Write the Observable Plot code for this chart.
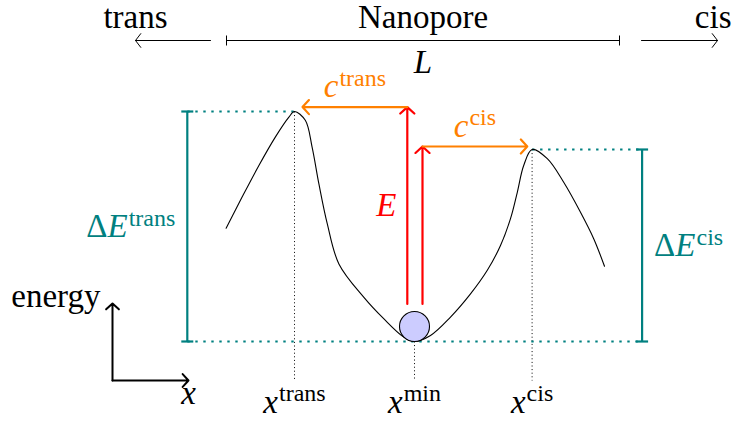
<!DOCTYPE html>
<html>
<head>
<meta charset="utf-8">
<script src="https://cdn.jsdelivr.net/npm/d3@7"></script>
<script src="https://cdn.jsdelivr.net/npm/@observablehq/plot@0.6"></script>
<style>
  html, body { margin: 0; padding: 0; background: #fff; overflow: hidden; }
</style>
</head>
<body>
<div id="chart"></div>
<script>
// Potential energy profile along the pore axis (position x, energy E, arbitrary units)
const profileX = [-4.71, -4.31, -3.89, -3.48, -3.14, -3.0, -2.73, -2.56, -2.39, -2.18, -1.89,
                  -1.27, -0.77, -0.27, 0, 0.4, 0.9, 1.4, 1.82, 2.15, 2.4, 2.57, 2.73, 2.94,
                  3.32, 3.73, 4.15, 4.48, 4.75];
const profileE = [2.83, 3.61, 4.40, 5.11, 5.61, 5.75, 5.53, 4.86, 3.94, 2.94, 1.94,
                  1.11, 0.57, 0.11, 0, 0.15, 0.61, 1.19, 1.78, 2.40, 3.07, 3.73, 4.40, 4.80,
                  4.57, 3.98, 3.23, 2.57, 1.88];

// Characteristic points: trans barrier, well minimum, cis barrier
const wellNames     = ["trans", "min", "cis"];
const wellPositions = [-3.0, 0, 2.94];
const wellEnergies  = [5.75, 0, 4.8];
const wellLabels    = ["x^trans", "x^min", "x^cis"];

// Barrier heights measured from the minimum
const barrierNames  = ["trans", "cis"];
const barrierLabels = ["ΔE^trans", "ΔE^cis"];

// Pore sides shown on the top row
const sideLabels = ["trans", "Nanopore", "cis"];

// Kinetic energy of the particle and the excess over each barrier
const kineticLabels = ["E", "c^trans", "c^cis"];

const TEAL = "#008080", ORANGE = "#ff8000", RED = "#ff0000", BALL = "#ccccff";
const FONT = "Liberation Serif";
const FS = 33, SUP = 24;

const profile = profileX.map((x, i) => ({x, e: profileE[i]}));
const wells = wellNames.map((name, i) => ({name, x: wellPositions[i], e: wellEnergies[i], label: wellLabels[i]}));
const W = Object.fromEntries(wells.map(d => [d.name, d]));

// layout in plot units
const barL = -5.68, barR = 5.69, capHalf = 0.15;
const floorE = -0.975;
const axisOrigin = {x: -7.55, e: floorE};
const axisTipE = 0.95, axisTipX = -5.65;
const kinStart = 0.94;
const kinTrans = {x: -0.18, top: 5.86, end: -2.8};
const kinCis = {x: 0.2, top: 4.875, end: 2.82};
const topE = 7.525, poreL = -4.7, poreR = 5.125, topCap = 0.125;
const transArrow = {from: -5.1, to: -6.975};
const cisArrow = {from: 5.675, to: 7.575};

const barriers = [
  {name: barrierNames[0], bar: barL, x1: barL, x2: W.trans.x, e: W.trans.e, label: barrierLabels[0]},
  {name: barrierNames[1], bar: barR, x1: W.cis.x, x2: barR, e: W.cis.e, label: barrierLabels[1]}
];
const levels = [
  ...barriers.map(b => ({x1: b.x1, x2: b.x2, e: b.e})),
  {x1: barL, x2: barR, e: W.min.e}
];

const redArrows = [
  {x: kinTrans.x, e1: kinStart, e2: kinTrans.top},
  {x: kinCis.x, e1: kinStart, e2: kinCis.top}
];
const orangeArrows = [
  {x1: kinTrans.x, x2: kinTrans.end, e: kinTrans.top, label: kineticLabels[1]},
  {x1: kinCis.x, x2: kinCis.end, e: kinCis.top, label: kineticLabels[2]}
];

const txt = {fontFamily: FONT, fontSize: FS};

const svg = Plot.plot({
  width: 734,
  height: 423,
  margin: 0,
  x: {domain: [-10.35, 8.0], axis: null},
  y: {domain: [-2.05, 8.525], axis: null},
  style: `font-family: '${FONT}', serif; background: #fff; overflow: visible;`,
  marks: [
    // dotted guides below each characteristic point
    Plot.link(wells, {x1: "x", x2: "x", y1: "e", y2: () => floorE,
      stroke: "black", strokeWidth: 1, strokeDasharray: "1,2.6"}),

    // energy levels
    Plot.link(levels, {x1: "x1", x2: "x2", y1: "e", y2: "e",
      stroke: TEAL, strokeWidth: 2.2, strokeDasharray: "2.4,5.6"}),

    // barrier height bars with end caps
    Plot.link(barriers, {x1: "bar", x2: "bar", y1: () => W.min.e, y2: "e", stroke: TEAL, strokeWidth: 2.2}),
    Plot.link(barriers.flatMap(b => [b.e, W.min.e].map(e => ({x: b.bar, e}))),
      {x1: d => d.x - capHalf, x2: d => d.x + capHalf, y1: "e", y2: "e", stroke: TEAL, strokeWidth: 2.2}),

    // potential profile
    Plot.line(profile, {x: "x", y: "e", curve: "catmull-rom", stroke: "black", strokeWidth: 1.1}),

    // the particle resting in the well
    Plot.dot([{x: W.min.x, e: 0.375}], {x: "x", y: "e", r: 15, fill: BALL, stroke: "black", strokeWidth: 1.1}),

    // kinetic energy
    Plot.arrow(redArrows, {x1: "x", x2: "x", y1: "e1", y2: "e2",
      stroke: RED, strokeWidth: 2.2, headAngle: 95, headLength: 6.5}),
    // excess over each barrier
    Plot.arrow(orangeArrows, {x1: "x1", x2: "x2", y1: "e", y2: "e",
      stroke: ORANGE, strokeWidth: 2.2, headAngle: 95, headLength: 6.5}),

    // axis indicator
    Plot.arrow([axisOrigin], {x1: "x", x2: "x", y1: "e", y2: () => axisTipE,
      stroke: "black", strokeWidth: 2, headAngle: 95, headLength: 6.5}),
    Plot.arrow([axisOrigin], {x1: "x", x2: () => axisTipX, y1: "e", y2: "e",
      stroke: "black", strokeWidth: 2, headAngle: 95, headLength: 6.5}),

    // top row: trans <-  |-- Nanopore --|  -> cis
    Plot.arrow([transArrow, cisArrow], {x1: "from", x2: "to", y1: () => topE, y2: () => topE,
      stroke: "black", strokeWidth: 1, headAngle: 105, headLength: 13}),
    Plot.link([{x1: poreL, x2: poreR}], {x1: "x1", x2: "x2", y1: () => topE, y2: () => topE,
      stroke: "black", strokeWidth: 1}),
    Plot.link([poreL, poreR], {x1: d => d, x2: d => d, y1: () => topE - topCap, y2: () => topE + topCap,
      stroke: "black", strokeWidth: 1}),

    // plain text labels
    Plot.text([{x: transArrow.to, t: sideLabels[0]}, {x: (poreL + poreR) / 2, t: sideLabels[1]}],
      {x: "x", y: () => topE, text: "t", dy: -13, lineAnchor: "bottom", ...txt, fill: "black"}),
    Plot.text([{x: cisArrow.to, t: sideLabels[2]}],
      {x: "x", y: () => topE, text: "t", textAnchor: "end", dx: 14, dy: -13, lineAnchor: "bottom", ...txt, fill: "black"}),
    Plot.text([axisOrigin], {x: "x", y: () => axisTipE, text: () => "energy", textAnchor: "end",
      dx: -12, dy: 3, lineAnchor: "bottom", ...txt, fill: "black"}),

    // math labels
    Plot.text([{x: (poreL + poreR) / 2}], {x: "x", y: () => topE, text: () => "L", dy: 32,
      lineAnchor: "bottom", ...txt, fontStyle: "italic", fill: "black"}),
    Plot.text([{x: axisTipX}], {x: "x", y: () => floorE, text: () => "x", dy: 23,
      lineAnchor: "bottom", ...txt, fontStyle: "italic", fill: "black"}),
    Plot.text(wells, {x: "x", y: () => floorE, text: "label", dy: 32,
      lineAnchor: "bottom", ...txt, fontStyle: "italic", fill: "black"}),
    Plot.text([barriers[0]], {x: "bar", y: d => (d.e + W.min.e) / 2, text: "label", textAnchor: "end", dx: -12,
      ...txt, fontStyle: "italic", fill: TEAL}),
    Plot.text([barriers[1]], {x: "bar", y: d => (d.e + W.min.e) / 2, text: "label", textAnchor: "start", dx: 12,
      ...txt, fontStyle: "italic", fill: TEAL}),
    Plot.text([redArrows[0]], {x: "x", y: d => (d.e1 + d.e2) / 2, text: () => kineticLabels[0], textAnchor: "end", dx: -11,
      ...txt, fontStyle: "italic", fill: RED}),
    Plot.text(orangeArrows, {x: d => (d.x1 + d.x2) / 2, y: "e", text: "label", dy: -10,
      lineAnchor: "bottom", ...txt, fontStyle: "italic", fill: ORANGE})
  ]
});

// Typeset "base^sup" labels: upright Δ and upright, raised superscripts
const NS = "http://www.w3.org/2000/svg";
svg.querySelectorAll("text").forEach(t => {
  const s = t.textContent;
  if (!/[\^Δ]/.test(s)) return;
  const [base, sup] = s.split("^");
  t.textContent = "";
  for (const ch of base) {
    const sp = document.createElementNS(NS, "tspan");
    if (ch === "Δ") sp.setAttribute("font-style", "normal");
    sp.textContent = ch;
    t.appendChild(sp);
  }
  if (sup) {
    const sp = document.createElementNS(NS, "tspan");
    sp.setAttribute("font-style", "normal");
    sp.setAttribute("font-size", String(SUP));
    sp.setAttribute("dx", "1");
    sp.setAttribute("dy", "-0.48em");
    sp.textContent = sup;
    t.appendChild(sp);
  }
});

document.getElementById("chart").appendChild(svg);
</script>
</body>
</html>
